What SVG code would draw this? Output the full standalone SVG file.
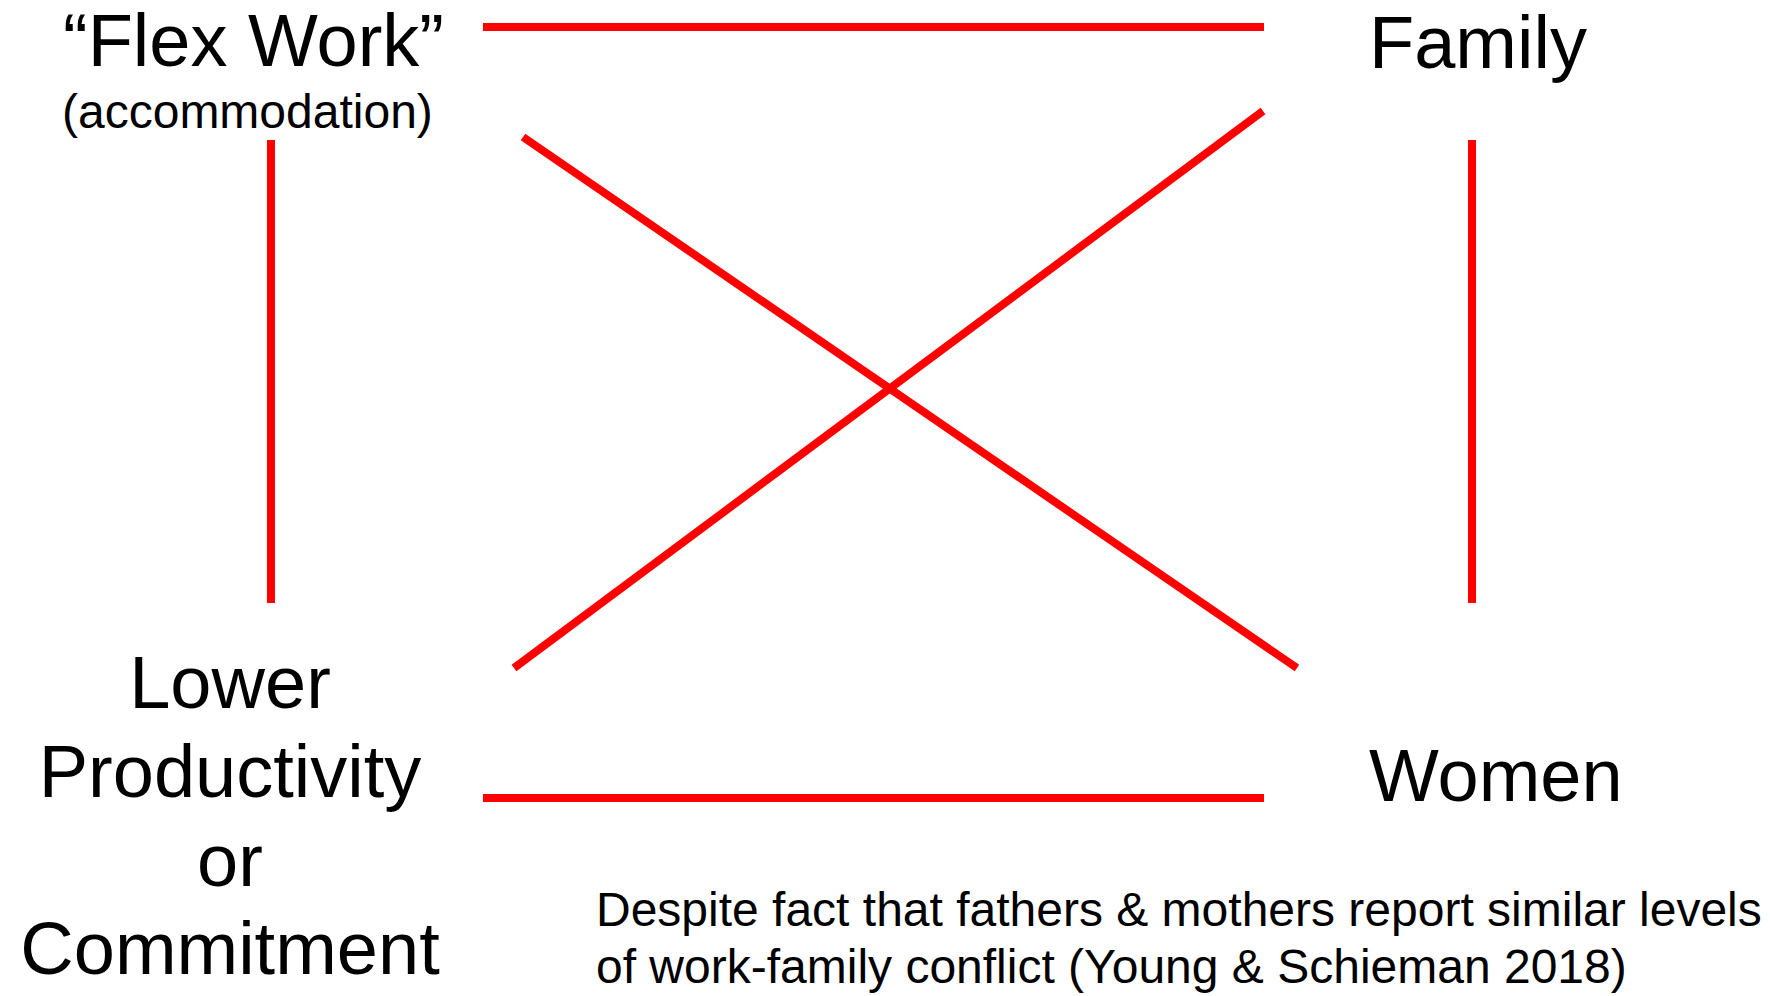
<svg xmlns="http://www.w3.org/2000/svg" width="1770" height="996" viewBox="0 0 1770 996">
<style>
.big{font-family:"Liberation Sans",Arial,sans-serif;font-size:74px;fill:#000}
.small{font-family:"Liberation Sans",Arial,sans-serif;font-size:48px;fill:#000}
.c{stroke:#ff0000;stroke-width:8;fill:none}
</style>
<rect width="1770" height="996" fill="#fff"/>
<g id="connectors">
<line class="c" x1="483" y1="27" x2="1264" y2="27"/>
<line class="c" x1="271" y1="140" x2="271" y2="603"/>
<line class="c" x1="1472" y1="140" x2="1472" y2="603"/>
<line class="c" x1="483" y1="798" x2="1264" y2="798"/>
<line class="c" x1="523" y1="137" x2="1297" y2="668"/>
<line class="c" x1="514" y1="668" x2="1263" y2="111"/>
</g>
<g id="flex">
<text class="big" x="63" y="66">“Flex Work”</text>
<text class="small" x="62" y="128">(accommodation)</text>
</g>
<g id="family">
<text class="big" x="1369" y="68">Family</text>
</g>
<g id="women">
<text class="big" x="1369" y="801">Women</text>
</g>
<g id="lower">
<text class="big" text-anchor="middle" x="230" y="708">Lower</text>
<text class="big" text-anchor="middle" x="230" y="797">Productivity</text>
<text class="big" text-anchor="middle" x="230" y="886">or</text>
<text class="big" text-anchor="middle" x="230" y="974">Commitment</text>
</g>
<g id="note">
<text class="small" x="596" y="926">Despite fact that fathers &amp; mothers report similar levels</text>
<text class="small" x="596" y="983">of work-family conflict (Young &amp; Schieman 2018)</text>
</g>
</svg>
